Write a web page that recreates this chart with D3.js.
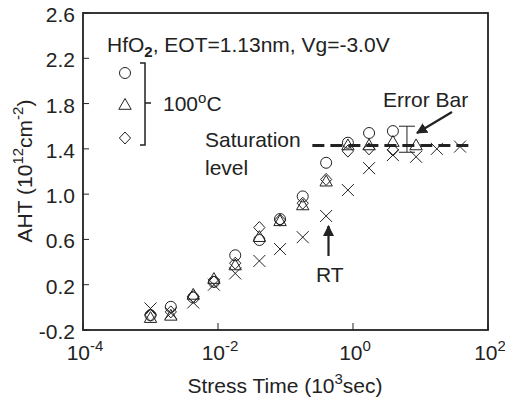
<!DOCTYPE html>
<html>
<head>
<meta charset="utf-8">
<script src="https://cdn.jsdelivr.net/npm/d3@7"></script>
<style>
  body { margin: 0; background: #fff; }
  svg { display: block; font-family: 'Liberation Sans', Arial, sans-serif; }
</style>
</head>
<body>
<svg id="chart" width="505" height="400"></svg>
<script>
// stress time in 10^3 sec, AHT in 10^12 cm^-2
const stressTime = [0.001, 0.002, 0.0043, 0.0087, 0.018, 0.041, 0.083, 0.18, 0.4, 0.84, 1.73, 3.9, 8.6, 17.5, 38.5]
const circleAHT = [-0.07, 0.005, 0.087, 0.225, 0.46, 0.595, 0.78, 0.98, 1.277, 1.454, 1.54, 1.557]
const triangleAHT = [-0.095, -0.075, 0.11, 0.25, 0.37, 0.62, 0.76, 0.9, 1.11, 1.43, 1.43, 1.46, 1.43]
const diamondAHT = [-0.07, -0.04, 0.095, 0.225, 0.39, 0.705, 0.77, 0.92, 1.13, 1.38, 1.4, 1.39]
const rtAHT = [-0.01, -0.05, 0.043, 0.2, 0.3, 0.41, 0.515, 0.62, 0.807, 1.036, 1.23, 1.345, 1.33, 1.4, 1.42]

const yTicks = [-0.2, 0.2, 0.6, 1.0, 1.4, 1.8, 2.2, 2.6]
const xTicks = [1e-4, 1e-2, 1e0, 1e2]
const xTickExp = ['-4', '-2', '0', '2']

const saturation = { level: 1.43, from: 0.25, to: 60 }
const errorBar = { t: 6.3, low: 1.37, high: 1.6 }

const margin = { top: 13, right: 17, bottom: 70, left: 83 }
const width = 505
const height = 400
const ink = '#222'
const fontSize = 21

const svg = d3.select('#chart')

const x = d3.scaleLog()
  .domain([1e-4, 1e2])
  .range([margin.left, width - margin.right])

const y = d3.scaleLinear()
  .domain([-0.2, 2.6])
  .range([height - margin.bottom, margin.top])

// marker shapes
const shapes = {
  circle: g => g.append('circle').attr('r', 5.5),
  triangle: g => g.append('path').attr('d', 'M0,-6.5L6.2,4.3L-6.2,4.3Z'),
  diamond: g => g.append('path').attr('d', 'M0,-6L5.6,0L0,6L-5.6,0Z'),
  cross: g => g.append('path').attr('d', 'M-6,-6L6,6M-6,6L6,-6')
}

function drawSeries (values, shape) {
  svg.append('g')
    .selectAll('g')
    .data(values)
    .enter()
    .append('g')
    .attr('transform', (d, i) => `translate(${x(stressTime[i])}, ${y(d)})`)
    .each(function () {
      shapes[shape](d3.select(this))
        .attr('fill', 'none')
        .attr('stroke', ink)
        .attr('stroke-width', 1)
    })
}

// saturation level (dashed)
svg.append('line')
  .attr('x1', x(saturation.from))
  .attr('x2', x(saturation.to))
  .attr('y1', y(saturation.level))
  .attr('y2', y(saturation.level))
  .attr('stroke', ink)
  .attr('stroke-width', 3)
  .attr('stroke-dasharray', '12,6')

// error bar
const eb = svg.append('g')
  .attr('stroke', ink)
  .attr('stroke-width', 1)
eb.append('line')
  .attr('x1', x(errorBar.t)).attr('x2', x(errorBar.t))
  .attr('y1', y(errorBar.low)).attr('y2', y(errorBar.high))
eb.selectAll('.cap')
  .data([errorBar.low, errorBar.high])
  .enter()
  .append('line')
  .attr('x1', x(errorBar.t) - 8).attr('x2', x(errorBar.t) + 8)
  .attr('y1', d => y(d)).attr('y2', d => y(d))

drawSeries(rtAHT, 'cross')
drawSeries(circleAHT, 'circle')
drawSeries(triangleAHT, 'triangle')
drawSeries(diamondAHT, 'diamond')

// frame
svg.append('rect')
  .attr('x', margin.left)
  .attr('y', margin.top)
  .attr('width', width - margin.left - margin.right)
  .attr('height', height - margin.top - margin.bottom)
  .attr('fill', 'none')
  .attr('stroke', ink)
  .attr('stroke-width', 1.8)

// y ticks (inward) and labels
svg.append('g')
  .selectAll('line')
  .data(yTicks)
  .enter()
  .append('line')
  .attr('x1', margin.left)
  .attr('x2', margin.left + 6)
  .attr('y1', d => y(d))
  .attr('y2', d => y(d))
  .attr('stroke', ink)
  .attr('stroke-width', 1)

svg.append('g')
  .selectAll('text')
  .data(yTicks)
  .enter()
  .append('text')
  .attr('x', margin.left - 8)
  .attr('y', d => y(d) + 9)
  .attr('text-anchor', 'end')
  .attr('font-size', fontSize)
  .attr('fill', ink)
  .text(d => d.toFixed(1))

// x ticks (inward) and labels
svg.append('g')
  .selectAll('line')
  .data(xTicks)
  .enter()
  .append('line')
  .attr('x1', d => x(d))
  .attr('x2', d => x(d))
  .attr('y1', y(-0.2))
  .attr('y2', y(-0.2) - 7)
  .attr('stroke', ink)
  .attr('stroke-width', 1)

const xLabels = svg.append('g')
  .selectAll('text')
  .data(xTicks)
  .enter()
  .append('text')
  .attr('x', d => x(d) + 2)
  .attr('y', 360)
  .attr('text-anchor', 'middle')
  .attr('font-size', fontSize)
  .attr('fill', ink)
xLabels.append('tspan').text('10')
xLabels.append('tspan')
  .attr('dy', -9)
  .attr('font-size', 15)
  .text((d, i) => xTickExp[i])

// axis titles
const xTitle = svg.append('text')
  .attr('x', 285)
  .attr('y', 393)
  .attr('text-anchor', 'middle')
  .attr('font-size', fontSize)
  .attr('fill', ink)
xTitle.append('tspan').text('Stress Time (10')
xTitle.append('tspan').attr('dy', -9).attr('font-size', 15).text('3')
xTitle.append('tspan').attr('dy', 9).text('sec)')

const yTitle = svg.append('text')
  .attr('transform', 'translate(32, 171) rotate(-90)')
  .attr('text-anchor', 'middle')
  .attr('font-size', fontSize)
  .attr('fill', ink)
yTitle.append('tspan').text('AHT (10')
yTitle.append('tspan').attr('dy', -9).attr('font-size', 15).text('12')
yTitle.append('tspan').attr('dy', 9).text('cm')
yTitle.append('tspan').attr('dy', -9).attr('font-size', 15).text('-2')
yTitle.append('tspan').attr('dy', 9).text(')')

// header annotation
const head = svg.append('text')
  .attr('x', 107)
  .attr('y', 52)
  .attr('font-size', fontSize)
  .attr('fill', ink)
head.append('tspan').text('HfO')
head.append('tspan').attr('dy', 5).attr('font-size', 15).attr('font-weight', 'bold').text('2')
head.append('tspan').attr('dy', -5).text(', EOT=1.13nm, Vg=-3.0V')

// legend markers with bracket
const legend = svg.append('g')
const legendItems = [['circle', 73], ['triangle', 105], ['diamond', 138]]
legendItems.forEach(([shape, ly]) => {
  const g = legend.append('g').attr('transform', `translate(125, ${ly})`)
  shapes[shape](g)
    .attr('fill', 'none')
    .attr('stroke', ink)
    .attr('stroke-width', 1)
})
legend.append('path')
  .attr('d', 'M140,63H145V145H140M145,103H151')
  .attr('fill', 'none')
  .attr('stroke', ink)
  .attr('stroke-width', 1.5)
const temp = legend.append('text')
  .attr('x', 163)
  .attr('y', 111)
  .attr('font-size', fontSize)
  .attr('fill', ink)
temp.append('tspan').text('100')
temp.append('tspan').attr('dy', -8).attr('font-size', 15).text('o')
temp.append('tspan').attr('dy', 8).text('C')

// text annotations
svg.append('text')
  .attr('x', 205).attr('y', 147)
  .attr('font-size', fontSize).attr('fill', ink)
  .text('Saturation')
svg.append('text')
  .attr('x', 205).attr('y', 175)
  .attr('font-size', fontSize).attr('fill', ink)
  .text('level')
svg.append('text')
  .attr('x', 383).attr('y', 107)
  .attr('font-size', fontSize).attr('fill', ink)
  .text('Error Bar')
svg.append('text')
  .attr('x', 316).attr('y', 282)
  .attr('font-size', fontSize).attr('fill', ink)
  .text('RT')

// arrows
svg.append('defs').append('marker')
  .attr('id', 'head')
  .attr('viewBox', '0 0 10 10')
  .attr('refX', 9)
  .attr('refY', 5)
  .attr('markerWidth', 5)
  .attr('markerHeight', 5)
  .attr('orient', 'auto')
  .append('path')
  .attr('d', 'M0,0L10,5L0,10Z')
  .attr('fill', ink)

svg.append('line')
  .attr('x1', 452).attr('y1', 112)
  .attr('x2', 417).attr('y2', 133)
  .attr('stroke', ink).attr('stroke-width', 2.2)
  .attr('marker-end', 'url(#head)')
svg.append('line')
  .attr('x1', 328.5).attr('y1', 256)
  .attr('x2', 328.5).attr('y2', 226)
  .attr('stroke', ink).attr('stroke-width', 2.2)
  .attr('marker-end', 'url(#head)')
</script>
</body>
</html>
